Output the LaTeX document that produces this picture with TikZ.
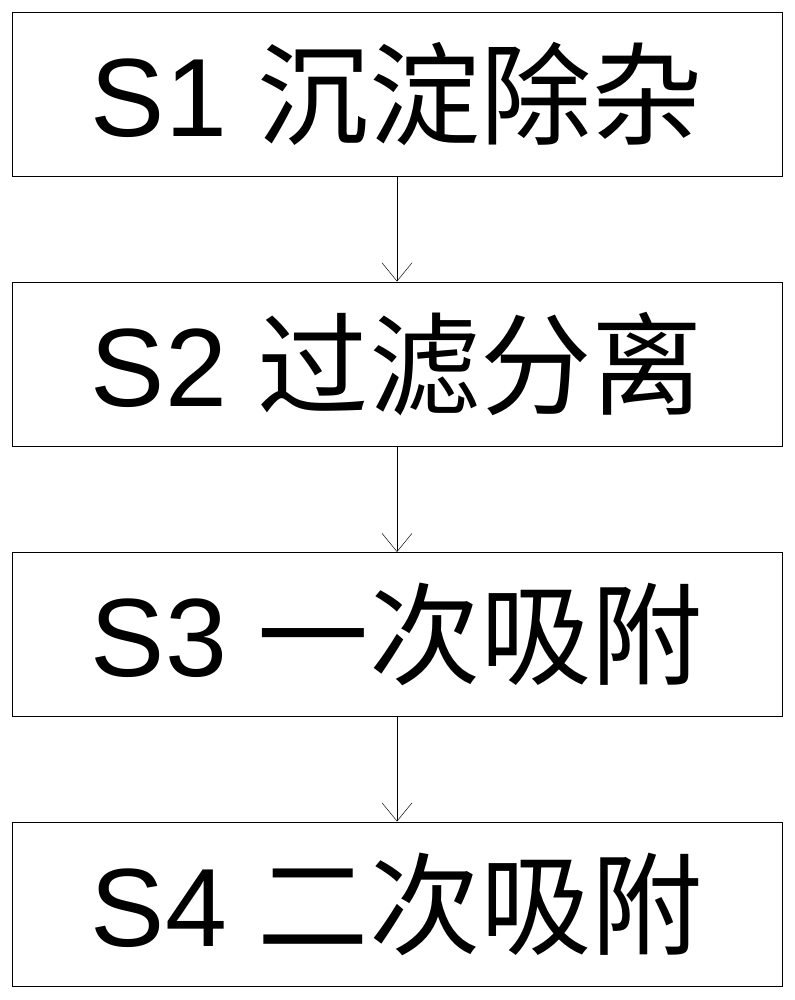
\documentclass[tikz,border=0pt]{standalone}
\usepackage{fontspec}
\setmainfont{Liberation Sans}
\newfontfamily\cjk{Noto Sans CJK SC}
\usetikzlibrary{arrows.meta}
\tikzset{
  stepbox/.style = { draw, thick, minimum width=23.1cm, minimum height=4.92cm,
                     font=\fontsize{95}{100}\selectfont },
  link/.style    = { -{Straight Barb[length=0.55cm,width=0.9cm]}, thin }
}
\begin{document}
\begin{tikzpicture}
  \useasboundingbox (0,0) rectangle (23.82,30);
  % Draw all steps
  \node[stepbox] (s1) at (11.91,27.18) {S1 {\cjk 沉淀除杂}};
  \node[stepbox] (s2) at (11.91,19.08) {S2 {\cjk 过滤分离}};
  \node[stepbox] (s3) at (11.91,10.965) {S3 {\cjk 一次吸附}};
  \node[stepbox] (s4) at (11.91,2.88) {S4 {\cjk 二次吸附}};
  % Draw links
  \draw[link] (s1) -- (s2);
  \draw[link] (s2) -- (s3);
  \draw[link] (s3) -- (s4);
\end{tikzpicture}
\end{document}
